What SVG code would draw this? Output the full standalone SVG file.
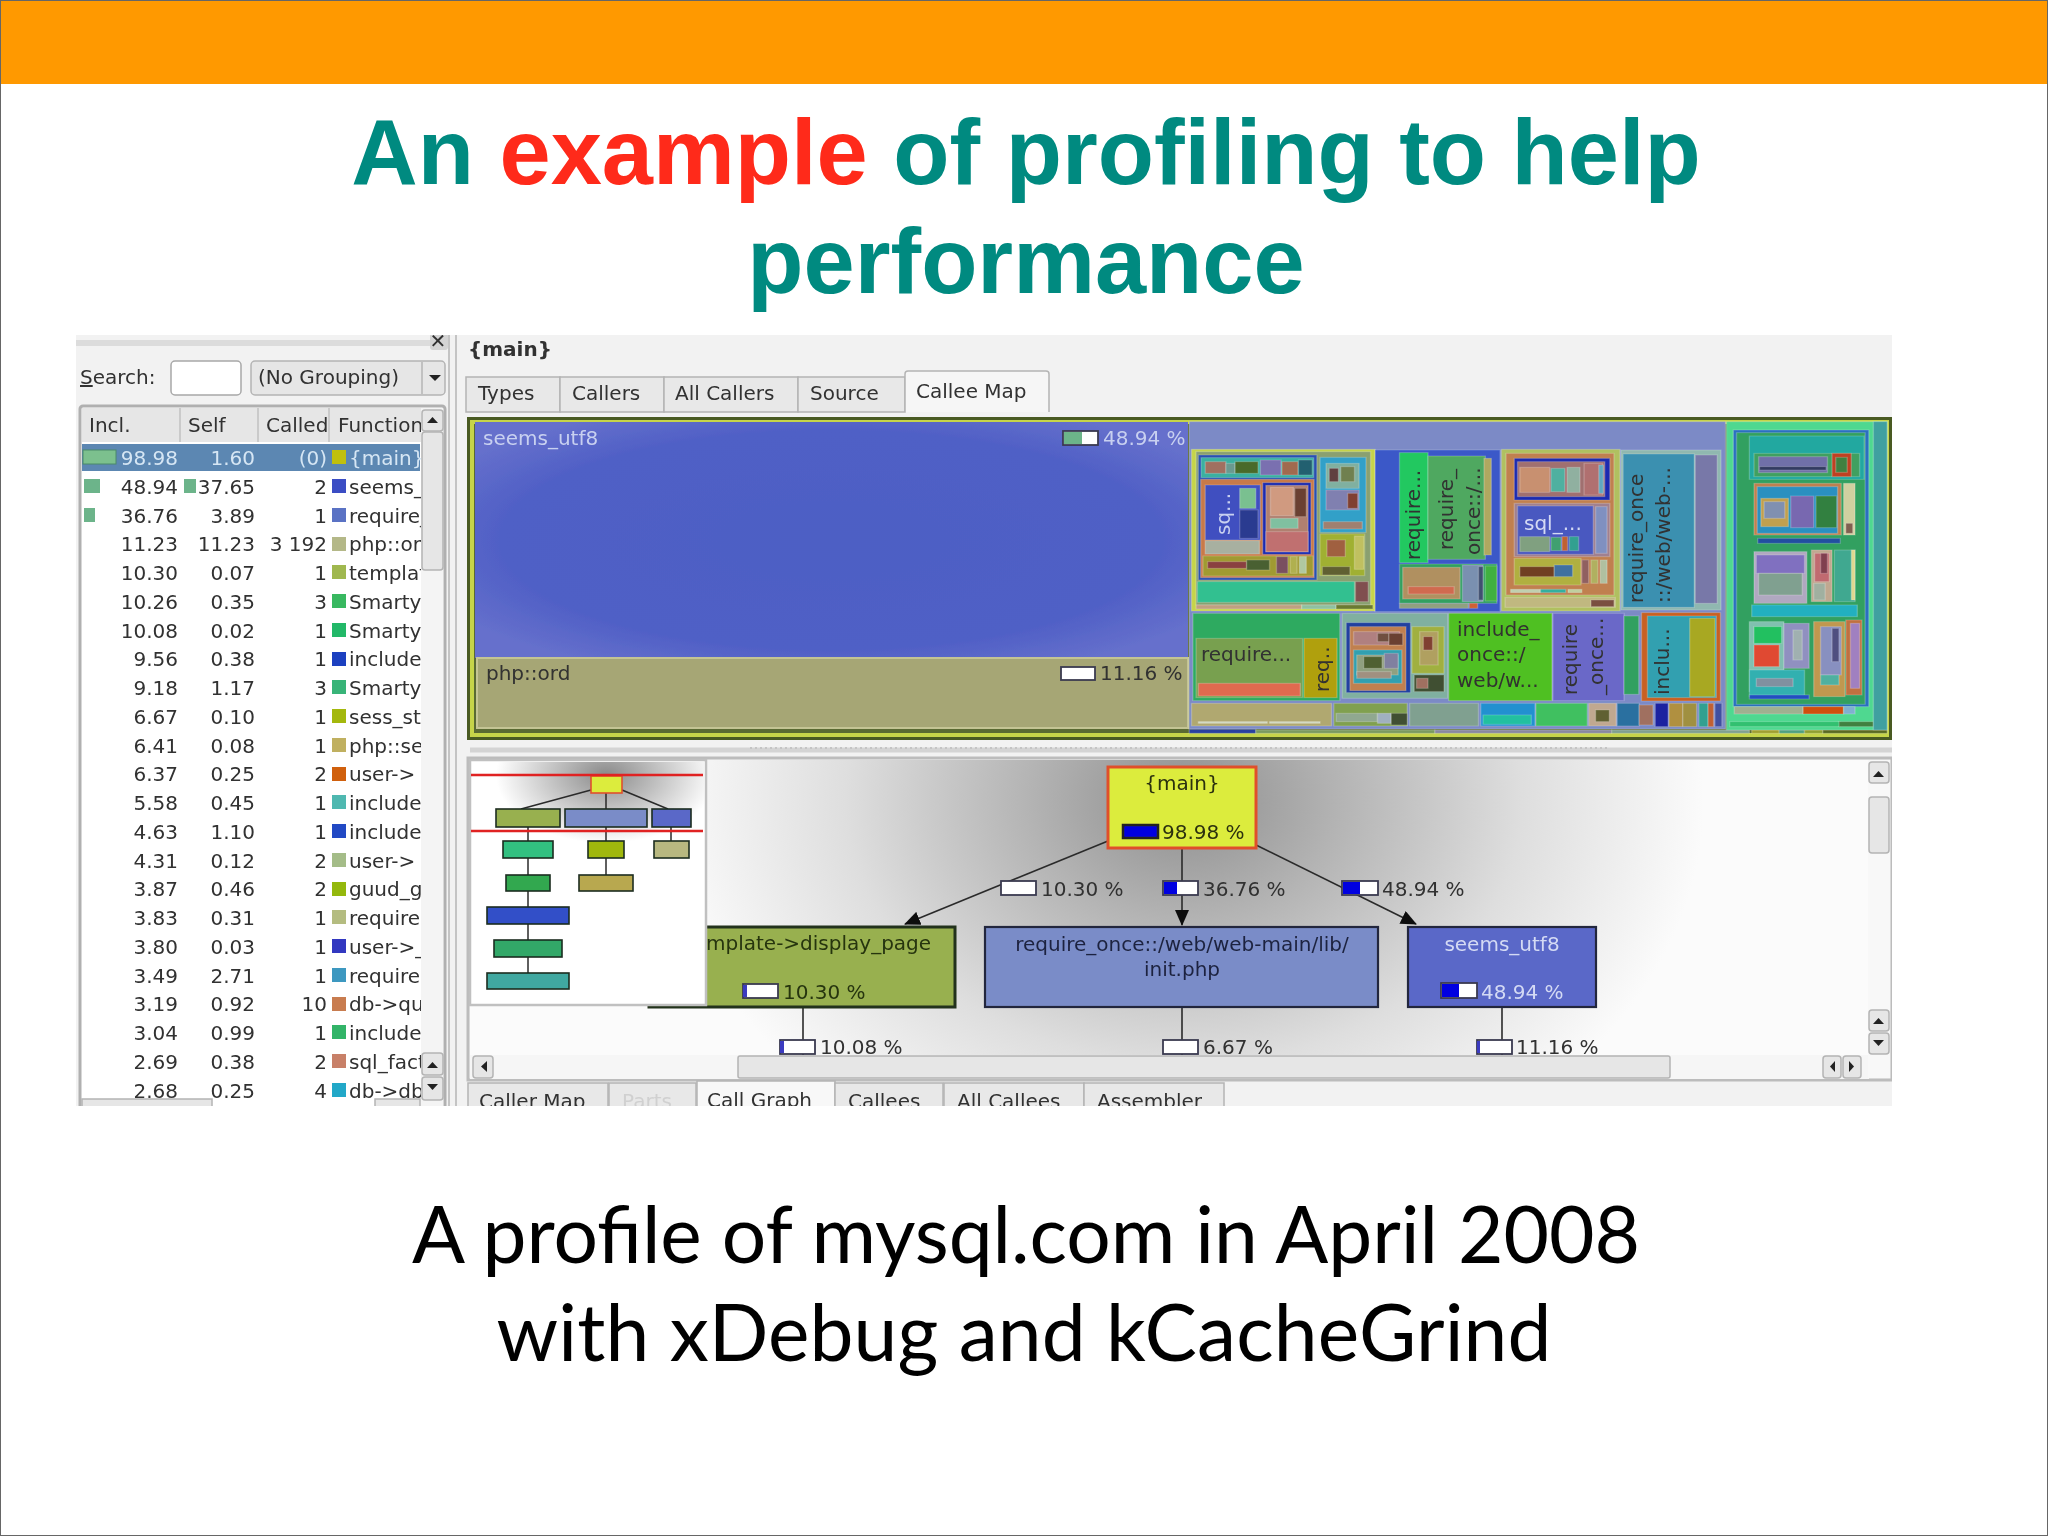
<svg xmlns="http://www.w3.org/2000/svg" width="2048" height="1536" viewBox="0 0 2048 1536">
<style>
.u{font-family:"DejaVu Sans",sans-serif;font-size:20px;fill:#303030}
.e{text-anchor:end}.m{text-anchor:middle}
.t rect{stroke:#fff;stroke-opacity:.22;stroke-width:3}
.btn{fill:#e6e6e6;stroke:#b4b4b4;stroke-width:1.5}
.tab{fill:#e8e8e8;stroke:#b4b4b4;stroke-width:1.5}
.edge{stroke:#2a2a2a;stroke-width:1.6;fill:none}
.node{stroke:#20283c;stroke-width:2.2}
.mini rect{stroke:#1c2c20;stroke-width:1.6}
.bar{fill:#fff;stroke:#3a3a50;stroke-width:1.8}
.title{font-family:"Liberation Sans",Arial,sans-serif;font-weight:700;font-size:92px;fill:#008a80;text-anchor:middle}
.cap{font-family:Lato,"Noto Sans",sans-serif;font-size:78.500px;fill:#000;text-anchor:middle}
</style>
<defs>
<clipPath id="shot"><rect x="76" y="335" width="1816" height="771"/></clipPath>
<clipPath id="fn"><rect x="300" y="440" width="121" height="670"/></clipPath>
<clipPath id="gv"><rect x="468" y="760" width="1401" height="295"/></clipPath>
<filter id="soft" x="0" y="0" width="1" height="1"><feGaussianBlur stdDeviation="0.6"/></filter>
<radialGradient id="sh" gradientUnits="userSpaceOnUse" cx="1184" cy="800" r="520" gradientTransform="translate(1184 800) scale(1 .78) translate(-1184 -800)">
<stop offset="0" stop-color="#8e8e8e"/><stop offset=".3" stop-color="#b4b4b4"/><stop offset=".65" stop-color="#dedede"/><stop offset="1" stop-color="#fbfbfb"/></radialGradient>
<radialGradient id="sh2" gradientUnits="userSpaceOnUse" cx="606" cy="775" r="110" gradientTransform="translate(606 775) scale(1 .62) translate(-606 -775)">
<stop offset="0" stop-color="#8a8a8a"/><stop offset="1" stop-color="#fff"/></radialGradient>
<radialGradient id="su" cx=".5" cy=".5" r=".62"><stop offset="0" stop-color="#4d5ec4"/><stop offset=".75" stop-color="#5060c6"/><stop offset="1" stop-color="#6670cc"/></radialGradient>
<marker id="ah" viewBox="0 0 16 14" refX="15" refY="7" markerWidth="16" markerHeight="14" markerUnits="userSpaceOnUse" orient="auto"><path d="M0 0L16 7L0 14z" fill="#111"/></marker>
</defs>

<rect width="2048" height="1536" fill="#fff"/>
<rect x="0" y="0" width="2048" height="84" fill="#ff9900"/>
<rect x=".5" y=".5" width="2047" height="1535" fill="none" stroke="#666"/>
<text class="title" x="1026" y="184">An <tspan fill="#ff2a1a">example</tspan> of profiling to help</text>
<text class="title" x="1026" y="293">performance</text>

<g clip-path="url(#shot)">
<g filter="url(#soft)">
<rect x="76" y="335" width="1816" height="771" fill="#f2f2f2"/>

<g id="left-panel">
<rect x="76" y="340" width="356" height="6" fill="#dcdcdc"/>
<rect x="430" y="333" width="18" height="17" rx="3" fill="#d4d4d4"/>
<text class="u m" x="438" y="348" font-size="18" font-weight="700">✕</text>
<text class="u" x="80" y="384"><tspan text-decoration="underline">S</tspan>earch:</text>
<rect x="171" y="361" width="70" height="34" rx="4" fill="#fff" stroke="#a8a8a8" stroke-width="1.5"/>
<rect x="251" y="361" width="194" height="34" rx="4" class="btn"/>
<line x1="422" y1="362" x2="422" y2="394" stroke="#b4b4b4" stroke-width="1.5"/>
<path d="M429 375h12l-6 6z" fill="#222"/>
<text class="u" x="258" y="384">(No Grouping)</text>
<rect x="80" y="406" width="365" height="710" rx="3" fill="#fff" stroke="#b0b0b0" stroke-width="3"/>
<rect x="82" y="408" width="340" height="34" fill="#e6e6e6"/>
<g stroke="#c0c0c0" stroke-width="1.5"><line x1="180" y1="408" x2="180" y2="442"/><line x1="258" y1="408" x2="258" y2="442"/><line x1="329" y1="408" x2="329" y2="442"/></g>
<text class="u" x="89" y="432">Incl.</text><text class="u" x="188" y="432">Self</text><text class="u" x="266" y="432">Called</text><text class="u" x="338" y="432">Function</text>
<rect x="82" y="444" width="338" height="27" fill="#5b87b2"/>
<rect x="83" y="450" width="33" height="14" fill="#7cc08e" stroke="#4c8a68"/>
<rect x="84" y="479" width="16" height="14" fill="#6cb48a"/><rect x="184" y="479" width="12" height="14" fill="#6cb48a"/>
<rect x="84" y="508" width="11" height="14" fill="#6cb48a"/>
<g transform="translate(1 -1)">
<g class="u e" id="incl">
<text x="177" y="466" style="fill:#d6e6f4">98.98</text><text x="177" y="495">48.94</text><text x="177" y="524">36.76</text><text x="177" y="552">11.23</text><text x="177" y="581">10.30</text><text x="177" y="610">10.26</text><text x="177" y="639">10.08</text><text x="177" y="667">9.56</text><text x="177" y="696">9.18</text><text x="177" y="725">6.67</text><text x="177" y="754">6.41</text><text x="177" y="782">6.37</text><text x="177" y="811">5.58</text><text x="177" y="840">4.63</text><text x="177" y="869">4.31</text><text x="177" y="897">3.87</text><text x="177" y="926">3.83</text><text x="177" y="955">3.80</text><text x="177" y="984">3.49</text><text x="177" y="1012">3.19</text><text x="177" y="1041">3.04</text><text x="177" y="1070">2.69</text><text x="177" y="1099">2.68</text>
</g>
<g class="u e" id="self">
<text x="254" y="466" style="fill:#d6e6f4">1.60</text><text x="254" y="495">37.65</text><text x="254" y="524">3.89</text><text x="254" y="552">11.23</text><text x="254" y="581">0.07</text><text x="254" y="610">0.35</text><text x="254" y="639">0.02</text><text x="254" y="667">0.38</text><text x="254" y="696">1.17</text><text x="254" y="725">0.10</text><text x="254" y="754">0.08</text><text x="254" y="782">0.25</text><text x="254" y="811">0.45</text><text x="254" y="840">1.10</text><text x="254" y="869">0.12</text><text x="254" y="897">0.46</text><text x="254" y="926">0.31</text><text x="254" y="955">0.03</text><text x="254" y="984">2.71</text><text x="254" y="1012">0.92</text><text x="254" y="1041">0.99</text><text x="254" y="1070">0.38</text><text x="254" y="1099">0.25</text>
</g>
</g>
<g transform="translate(0 -1)">
<g class="u e" id="called">
<text x="327" y="466" style="fill:#d6e6f4">(0)</text><text x="327" y="495">2</text><text x="327" y="524">1</text><text x="327" y="552">3 192</text><text x="327" y="581">1</text><text x="327" y="610">3</text><text x="327" y="639">1</text><text x="327" y="667">1</text><text x="327" y="696">3</text><text x="327" y="725">1</text><text x="327" y="754">1</text><text x="327" y="782">2</text><text x="327" y="811">1</text><text x="327" y="840">1</text><text x="327" y="869">2</text><text x="327" y="897">2</text><text x="327" y="926">1</text><text x="327" y="955">1</text><text x="327" y="984">1</text><text x="327" y="1012">10</text><text x="327" y="1041">1</text><text x="327" y="1070">2</text><text x="327" y="1099">4</text>
</g>
<g id="swatches">
<rect x="332" y="451" width="14" height="14" fill="#c0c010"/><rect x="332" y="480" width="14" height="14" fill="#3a4ec4"/><rect x="332" y="509" width="14" height="14" fill="#5a72c4"/><rect x="332" y="538" width="14" height="14" fill="#b4b888"/><rect x="332" y="566" width="14" height="14" fill="#a0b850"/><rect x="332" y="595" width="14" height="14" fill="#38b860"/><rect x="332" y="624" width="14" height="14" fill="#20b868"/><rect x="332" y="653" width="14" height="14" fill="#1c40c0"/><rect x="332" y="681" width="14" height="14" fill="#38b478"/><rect x="332" y="710" width="14" height="14" fill="#a4b810"/><rect x="332" y="739" width="14" height="14" fill="#c0b060"/><rect x="332" y="768" width="14" height="14" fill="#d06010"/><rect x="332" y="796" width="14" height="14" fill="#50b8b0"/><rect x="332" y="825" width="14" height="14" fill="#2448c4"/><rect x="332" y="854" width="14" height="14" fill="#a4bc88"/><rect x="332" y="883" width="14" height="14" fill="#94b810"/><rect x="332" y="911" width="14" height="14" fill="#b4bc80"/><rect x="332" y="940" width="14" height="14" fill="#3038c0"/><rect x="332" y="969" width="14" height="14" fill="#3c98c0"/><rect x="332" y="998" width="14" height="14" fill="#c87c50"/><rect x="332" y="1026" width="14" height="14" fill="#30b468"/><rect x="332" y="1055" width="14" height="14" fill="#c88068"/><rect x="332" y="1084" width="14" height="14" fill="#20a8c8"/>
</g>
<g class="u" clip-path="url(#fn)" id="functions">
<text x="349" y="466" style="fill:#d6e6f4">{main}</text><text x="349" y="495">seems_utf8</text><text x="349" y="524">require_once</text><text x="349" y="552">php::ord</text><text x="349" y="581">template</text><text x="349" y="610">Smarty</text><text x="349" y="639">Smarty</text><text x="349" y="667">include</text><text x="349" y="696">Smarty</text><text x="349" y="725">sess_start</text><text x="349" y="754">php::session</text><text x="349" y="782">user-&gt;</text><text x="349" y="811">include</text><text x="349" y="840">include</text><text x="349" y="869">user-&gt;</text><text x="349" y="897">guud_get</text><text x="349" y="926">require</text><text x="349" y="955">user-&gt;_</text><text x="349" y="984">require</text><text x="349" y="1012">db-&gt;query</text><text x="349" y="1041">include</text><text x="349" y="1070">sql_factory</text><text x="349" y="1099">db-&gt;db</text>
</g>
</g>
<rect x="421" y="408" width="22" height="700" fill="#f4f4f4"/>
<rect x="422" y="410" width="21" height="21" rx="3" class="btn"/><path d="M427 423h11l-5.500-6z" fill="#222"/>
<rect x="422" y="432" width="21" height="138" rx="3" class="btn"/>
<rect x="422" y="1053" width="21" height="22" rx="3" class="btn"/><path d="M427 1068h11l-5.500-6z" fill="#222"/>
<rect x="422" y="1077" width="21" height="23" rx="3" class="btn"/><path d="M427 1084h11l-5.500 6z" fill="#222"/>
<rect x="82" y="1099" width="130" height="8" class="btn"/><rect x="375" y="1099" width="45" height="8" class="btn"/>
<line x1="449" y1="335" x2="449" y2="1106" stroke="#c4c4c4" stroke-width="2"/><line x1="456" y1="335" x2="456" y2="1106" stroke="#c4c4c4" stroke-width="2"/>
</g>

<g id="right-header">
<text class="u" x="468" y="356" style="font-weight:700">{main}</text>
<rect x="466" y="377" width="94" height="35" class="tab"/><rect x="560" y="377" width="104" height="35" class="tab"/><rect x="664" y="377" width="134" height="35" class="tab"/><rect x="798" y="377" width="107" height="35" class="tab"/>
<path d="M905 412V374q0-3 3-3H1046q3 0 3 3V412" fill="#f6f6f6" stroke="#b4b4b4" stroke-width="1.5"/>
<text class="u" x="478" y="400">Types</text><text class="u" x="572" y="400">Callers</text><text class="u" x="675" y="400">All Callers</text><text class="u" x="810" y="400">Source</text><text class="u" x="916" y="398">Callee Map</text>
</g>

<g id="treemap">
<rect x="467" y="417" width="1425" height="323" fill="#4a5a20"/>
<rect x="470" y="420" width="1419" height="317" fill="#c6d44a"/>
<rect x="474" y="424" width="1413" height="309" fill="#5a6a30"/>
<rect x="475" y="422" width="713" height="236" fill="url(#su)"/>
<rect x="477" y="658" width="711" height="70" fill="#a6a674" stroke="#c4c494" stroke-width="2"/>
<g class="t" transform="translate(1180 410) scale(.4592 .3333)">
<rect x="20" y="35" width="1168" height="922" fill="#7b8ac6"/>
<rect x="25" y="118" width="400" height="485" fill="#c5d44a"/><rect x="35" y="125" width="380" height="460" fill="#8aa070"/>
<rect x="40" y="135" width="258" height="375" fill="#2a50b0"/><rect x="46" y="143" width="245" height="60" fill="#3ab0a0"/>
<rect x="55" y="155" width="45" height="35" fill="#a07060"/><rect x="100" y="160" width="20" height="30" fill="#6a9a90"/><rect x="120" y="155" width="50" height="35" fill="#4a6a2a"/><rect x="175" y="150" width="45" height="45" fill="#7a70b0"/><rect x="222" y="155" width="35" height="40" fill="#a06a50"/><rect x="258" y="150" width="30" height="45" fill="#206070"/>
<rect x="45" y="208" width="247" height="295" fill="#c87a4a"/><rect x="55" y="225" width="120" height="165" fill="#4050c0"/><rect x="130" y="235" width="35" height="60" fill="#7ac090"/><rect x="130" y="300" width="40" height="85" fill="#2a3a90"/><rect x="55" y="392" width="118" height="40" fill="#a8b0a0"/>
<rect x="180" y="218" width="105" height="215" fill="#1a2ab0"/><rect x="187" y="226" width="92" height="200" fill="#b08070"/><rect x="197" y="232" width="50" height="85" fill="#d09a80"/><rect x="250" y="235" width="25" height="85" fill="#6a4030"/><rect x="197" y="325" width="60" height="30" fill="#80c0a0"/><rect x="187" y="365" width="92" height="60" fill="#c07070"/>
<rect x="50" y="438" width="240" height="60" fill="#a09a30"/><rect x="60" y="455" width="85" height="20" fill="#8a4040"/><rect x="145" y="450" width="50" height="30" fill="#4a6030"/><rect x="210" y="440" width="25" height="50" fill="#7a5060"/><rect x="240" y="440" width="15" height="50" fill="#b0b050"/><rect x="260" y="440" width="15" height="50" fill="#b0c8a0"/>
<rect x="305" y="142" width="100" height="225" fill="#30a0c8"/><rect x="318" y="160" width="72" height="75" fill="#80b0a0"/><rect x="325" y="175" width="20" height="40" fill="#604040"/><rect x="350" y="170" width="30" height="45" fill="#708050"/><rect x="318" y="240" width="72" height="60" fill="#8080b0"/><rect x="365" y="250" width="22" height="45" fill="#804030"/><rect x="312" y="335" width="85" height="22" fill="#a08070"/>
<rect x="305" y="372" width="97" height="125" fill="#a0b030"/><rect x="320" y="390" width="40" height="50" fill="#a06040"/><rect x="380" y="378" width="20" height="100" fill="#c0c060"/><rect x="310" y="470" width="60" height="25" fill="#606030"/>
<rect x="38" y="515" width="342" height="62" fill="#30c090"/><rect x="382" y="515" width="28" height="60" fill="#805050"/>
<rect x="35" y="585" width="230" height="12" fill="#c0a080"/><rect x="265" y="585" width="75" height="12" fill="#90c0a0"/><rect x="340" y="585" width="80" height="12" fill="#6a7a30"/>

<rect x="425" y="120" width="272" height="485" fill="#3a58c8"/>
<rect x="478" y="128" width="62" height="330" fill="#20c860"/><rect x="540" y="138" width="125" height="310" fill="#50a860"/><rect x="662" y="145" width="16" height="290" fill="#b0a860"/>
<rect x="478" y="462" width="212" height="118" fill="#30a060"/><rect x="485" y="472" width="125" height="95" fill="#b09060"/><rect x="497" y="530" width="100" height="22" fill="#d06a50"/><rect x="615" y="465" width="45" height="110" fill="#7a90b0"/><rect x="650" y="470" width="10" height="100" fill="#405070"/><rect x="665" y="468" width="25" height="105" fill="#40b040"/>
<rect x="478" y="580" width="150" height="15" fill="#90a080"/><rect x="630" y="580" width="18" height="15" fill="#d06030"/>

<rect x="700" y="118" width="258" height="485" fill="#b0c060"/><rect x="710" y="130" width="235" height="425" fill="#c08050"/>
<rect x="728" y="145" width="208" height="125" fill="#1a2ab0"/><rect x="735" y="155" width="190" height="105" fill="#a07070"/><rect x="740" y="172" width="65" height="75" fill="#c89070"/><rect x="808" y="175" width="30" height="70" fill="#50b0a0"/><rect x="843" y="172" width="28" height="75" fill="#90b0a0"/><rect x="880" y="160" width="40" height="95" fill="#b07070"/><rect x="912" y="165" width="10" height="85" fill="#60a8c0"/>
<rect x="728" y="280" width="208" height="160" fill="#a08090"/><rect x="735" y="288" width="165" height="145" fill="#4a58c0"/><rect x="905" y="290" width="25" height="140" fill="#8090c0"/><rect x="740" y="380" width="65" height="45" fill="#80a080"/><rect x="808" y="382" width="22" height="40" fill="#40a070"/><rect x="832" y="380" width="12" height="42" fill="#c06030"/><rect x="848" y="380" width="20" height="42" fill="#30a090"/>
<rect x="728" y="445" width="145" height="80" fill="#b0b040"/><rect x="740" y="470" width="75" height="30" fill="#704020"/><rect x="815" y="465" width="40" height="35" fill="#4070a0"/><rect x="875" y="450" width="15" height="70" fill="#906060"/><rect x="895" y="450" width="15" height="70" fill="#b0b060"/><rect x="915" y="450" width="15" height="70" fill="#b0c0a0"/>
<rect x="720" y="538" width="65" height="10" fill="#c0d0b0"/><rect x="785" y="538" width="55" height="10" fill="#30b0a0"/><rect x="845" y="538" width="30" height="10" fill="#c0d0a0"/>
<rect x="708" y="562" width="240" height="30" fill="#c0b880"/><rect x="895" y="570" width="50" height="20" fill="#7a5040"/>

<rect x="960" y="120" width="218" height="480" fill="#90b8b0"/><rect x="965" y="132" width="155" height="460" fill="#3a90b0"/><rect x="1122" y="135" width="48" height="445" fill="#7878a8"/>

<rect x="28" y="610" width="320" height="262" fill="#2eaa60"/><rect x="35" y="685" width="232" height="178" fill="#78a050"/><rect x="40" y="820" width="222" height="38" fill="#e06a50"/><rect x="270" y="685" width="72" height="178" fill="#b0a010"/>
<rect x="353" y="610" width="230" height="255" fill="#80b0a0"/><rect x="362" y="638" width="140" height="210" fill="#2040a0"/><rect x="370" y="650" width="122" height="192" fill="#c08050"/><rect x="378" y="665" width="100" height="40" fill="#b08080"/><rect x="430" y="670" width="25" height="25" fill="#705040"/><rect x="455" y="670" width="30" height="35" fill="#6a4030"/><rect x="378" y="720" width="105" height="100" fill="#30a0b0"/><rect x="385" y="735" width="90" height="60" fill="#90a080"/><rect x="400" y="740" width="40" height="35" fill="#506030"/><rect x="445" y="730" width="30" height="45" fill="#8080a0"/><rect x="385" y="785" width="75" height="20" fill="#a09080"/>
<rect x="505" y="650" width="70" height="140" fill="#a0b040"/><rect x="522" y="665" width="40" height="100" fill="#b0a060"/><rect x="530" y="680" width="20" height="40" fill="#804030"/><rect x="510" y="795" width="65" height="50" fill="#405030"/><rect x="515" y="805" width="25" height="30" fill="#a07060"/>
<rect x="585" y="610" width="225" height="262" fill="#50c020"/>
<rect x="812" y="610" width="155" height="262" fill="#6a68c8"/><rect x="967" y="618" width="32" height="235" fill="#30a060"/>
<rect x="1005" y="608" width="172" height="265" fill="#c86020"/><rect x="1018" y="618" width="150" height="245" fill="#30a0b0"/><rect x="1110" y="625" width="55" height="235" fill="#a8a820"/>

<rect x="25" y="880" width="305" height="68" fill="#b0a870"/><rect x="40" y="935" width="150" height="5" fill="#d0d8c0"/><rect x="195" y="935" width="110" height="5" fill="#d0d8c0"/>
<rect x="335" y="880" width="160" height="68" fill="#80a050"/><rect x="340" y="910" width="90" height="25" fill="#90a890"/><rect x="430" y="910" width="30" height="30" fill="#a0b0c0"/><rect x="460" y="910" width="35" height="35" fill="#405030"/>
<rect x="500" y="880" width="150" height="68" fill="#80a090"/>
<rect x="655" y="880" width="118" height="68" fill="#2090d0"/><rect x="660" y="915" width="105" height="28" fill="#20c0a0"/>
<rect x="775" y="880" width="112" height="68" fill="#40c060"/>
<rect x="890" y="880" width="60" height="68" fill="#c0a890"/><rect x="905" y="900" width="30" height="35" fill="#606030"/>
<rect x="952" y="880" width="48" height="68" fill="#2a70a0"/><rect x="1000" y="885" width="30" height="60" fill="#a07060"/>
<rect x="1035" y="880" width="28" height="70" fill="#1a20a0"/><rect x="1065" y="880" width="30" height="70" fill="#b09040"/><rect x="1095" y="880" width="30" height="70" fill="#a09040"/><rect x="1130" y="880" width="20" height="70" fill="#30a090"/><rect x="1150" y="880" width="12" height="70" fill="#c06030"/><rect x="1165" y="880" width="15" height="70" fill="#4050a0"/>

<rect x="20" y="958" width="145" height="12" fill="#2a40a0"/><rect x="165" y="960" width="390" height="10" fill="#7a9a60"/><rect x="555" y="960" width="385" height="10" fill="#8888a0"/><rect x="940" y="960" width="300" height="10" fill="#80a090"/><rect x="1245" y="960" width="60" height="10" fill="#a0a030"/><rect x="1305" y="960" width="55" height="10" fill="#50a080"/><rect x="1360" y="960" width="40" height="10" fill="#90a030"/><rect x="1400" y="960" width="140" height="10" fill="#5a6a20"/>

<rect x="1190" y="35" width="350" height="925" fill="#50d890"/><rect x="1205" y="60" width="295" height="830" fill="#2a70c0"/><rect x="1212" y="68" width="280" height="815" fill="#30a060"/>
<rect x="1240" y="78" width="250" height="130" fill="#20a8a0"/><rect x="1250" y="130" width="230" height="70" fill="#40a060"/><rect x="1260" y="140" width="150" height="48" fill="#7070a8"/><rect x="1262" y="170" width="145" height="10" fill="#303a60"/><rect x="1420" y="130" width="42" height="70" fill="#c04020"/><rect x="1428" y="142" width="25" height="45" fill="#408040"/>
<rect x="1250" y="220" width="190" height="155" fill="#c08050"/><rect x="1257" y="230" width="175" height="140" fill="#2a90c0"/><rect x="1265" y="265" width="60" height="85" fill="#c0a050"/><rect x="1272" y="275" width="45" height="50" fill="#8090b0"/><rect x="1330" y="258" width="50" height="95" fill="#7868b0"/><rect x="1385" y="258" width="45" height="95" fill="#308040"/>
<rect x="1445" y="220" width="25" height="155" fill="#d0d0a0"/><rect x="1450" y="340" width="15" height="30" fill="#806050"/><rect x="1258" y="385" width="180" height="15" fill="#2050a0"/>
<rect x="1250" y="425" width="115" height="155" fill="#b0a8c0"/><rect x="1255" y="435" width="105" height="55" fill="#8070c0"/><rect x="1260" y="490" width="95" height="65" fill="#80a090"/>
<rect x="1375" y="420" width="45" height="155" fill="#c0a890"/><rect x="1382" y="430" width="32" height="85" fill="#c06a70"/><rect x="1395" y="430" width="15" height="60" fill="#804050"/><rect x="1380" y="520" width="25" height="50" fill="#a0b0a0"/>
<rect x="1425" y="420" width="45" height="155" fill="#40a890"/><rect x="1462" y="420" width="8" height="150" fill="#e0d890"/>
<rect x="1245" y="585" width="230" height="35" fill="#20b0c0"/>
<rect x="1240" y="635" width="75" height="210" fill="#80c0b0"/><rect x="1250" y="650" width="60" height="50" fill="#20c060"/><rect x="1250" y="705" width="55" height="65" fill="#e04a30"/><rect x="1315" y="640" width="55" height="135" fill="#9090c0"/><rect x="1335" y="660" width="20" height="90" fill="#a0b0b0"/>
<rect x="1240" y="780" width="120" height="80" fill="#30b0b0"/><rect x="1255" y="805" width="80" height="25" fill="#8090a0"/>
<rect x="1380" y="635" width="68" height="225" fill="#c09850"/><rect x="1395" y="650" width="45" height="145" fill="#8890c0"/><rect x="1420" y="655" width="15" height="100" fill="#505080"/><rect x="1395" y="795" width="40" height="30" fill="#50b0a0"/>
<rect x="1450" y="630" width="35" height="225" fill="#c07040"/><rect x="1460" y="640" width="20" height="195" fill="#a080c0"/>
<rect x="1240" y="855" width="130" height="12" fill="#2050c0"/>
<rect x="1207" y="890" width="150" height="22" fill="#a0b090"/><rect x="1357" y="890" width="88" height="22" fill="#d05010"/><rect x="1445" y="890" width="25" height="22" fill="#80b0d0"/>
<rect x="1197" y="935" width="240" height="15" fill="#30c070"/><rect x="1435" y="935" width="75" height="15" fill="#408040"/>
<rect x="1510" y="35" width="30" height="925" fill="#40a0a0"/>
</g>
<text class="u" style="fill:#c8d0f0" x="483" y="445">seems_utf8</text>
<rect x="1063" y="431" width="35" height="14" class="bar"/><rect x="1064" y="432" width="18" height="12" fill="#6cb48a"/>
<text class="u" style="fill:#c8d0f0" x="1103" y="445">48.94 %</text>
<text class="u" x="486" y="680">php::ord</text>
<rect x="1061" y="667" width="34" height="13" class="bar"/>
<text class="u" x="1100" y="680">11.16 %</text>
<text class="u" style="fill:#c8d0f0" transform="translate(1230 535) rotate(-90)">sq...</text>
<text class="u" transform="translate(1420 560) rotate(-90)">require...</text>
<text class="u" transform="translate(1453 550) rotate(-90)">require_</text>
<text class="u" transform="translate(1480 555) rotate(-90)">once::/...</text>
<text class="u" transform="translate(1643 603) rotate(-90)">require_once</text>
<text class="u" transform="translate(1670 603) rotate(-90)">::/web/web-...</text>
<text class="u" style="fill:#d4daf4" x="1524" y="530">sql_...</text>
<text class="u" x="1201" y="661">require...</text>
<text class="u" transform="translate(1329 692) rotate(-90)">req..</text>
<text class="u" x="1457" y="636">include_</text>
<text class="u" x="1457" y="661">once::/</text>
<text class="u" x="1457" y="687">web/w...</text>
<text class="u" transform="translate(1577 695) rotate(-90)">require</text>
<text class="u" transform="translate(1603 695) rotate(-90)">_once...</text>
<text class="u" transform="translate(1669 695) rotate(-90)">inclu...</text>
<line x1="470" y1="750" x2="1892" y2="750" stroke="#d4d4d4" stroke-width="5"/>
<line x1="750" y1="748" x2="1610" y2="748" stroke="#c4c4c4" stroke-width="2" stroke-dasharray="2 3"/>
</g>

<g id="callgraph">
<rect x="468" y="758" width="1424" height="322" fill="#f4f4f4" stroke="#bcbcbc" stroke-width="3"/>
<rect x="470" y="760" width="1420" height="318" fill="#fdfdfd"/>
<g clip-path="url(#gv)">
<rect x="470" y="760" width="1420" height="295" fill="url(#sh)"/>
<g id="connectors">
<line class="edge" x1="1108" y1="841" x2="905" y2="924" marker-end="url(#ah)"/>
<line class="edge" x1="1182" y1="848" x2="1182" y2="925" marker-end="url(#ah)"/>
<line class="edge" x1="1256" y1="845" x2="1416" y2="924" marker-end="url(#ah)"/>
<line class="edge" x1="803" y1="1007" x2="803" y2="1060"/>
<line class="edge" x1="1182" y1="1007" x2="1182" y2="1060"/>
<line class="edge" x1="1502" y1="1007" x2="1502" y2="1060"/>
</g>
<g id="n-main"><rect x="1108" y="767" width="148" height="81" fill="#dcec3c" stroke="#e0502c" stroke-width="3"/>
<text class="u m" x="1182" y="790" style="fill:#2c3010">{main}</text>
<rect x="1123" y="825" width="35" height="13" fill="#0000e0" stroke="#222" stroke-width="2.500"/>
<text class="u" x="1162" y="839" style="fill:#2c3010">98.98 %</text></g>
<g id="n-template"><rect x="649" y="927" width="306" height="80" fill="#98b050" stroke="#22301a" stroke-width="3"/>
<text class="u" x="706" y="950" style="fill:#26340f">mplate-&gt;display_page</text>
<rect x="743" y="984" width="35" height="14" class="bar"/><rect x="743" y="985" width="4" height="12" fill="#3a3ac0"/>
<text class="u" x="783" y="999" style="fill:#26340f">10.30 %</text></g>
<g id="n-require"><rect x="985" y="927" width="393" height="80" fill="#7a8cc8" class="node"/>
<text class="u m" x="1182" y="951" style="fill:#1e2440">require_once::/web/web-main/lib/</text>
<text class="u m" x="1182" y="976" style="fill:#1e2440">init.php</text></g>
<g id="n-seems"><rect x="1408" y="927" width="188" height="80" fill="#5a68c8" class="node"/>
<text class="u m" x="1502" y="951" style="fill:#d4daf4">seems_utf8</text>
<rect x="1441" y="983" width="36" height="15" class="bar"/><rect x="1442" y="984" width="17" height="13" fill="#0000e0"/>
<text class="u" x="1481" y="999" style="fill:#d4daf4">48.94 %</text></g>
<g id="edge-labels">
<rect x="1001" y="881" width="35" height="14" class="bar"/><text class="u" x="1041" y="896">10.30 %</text>
<rect x="1163" y="881" width="35" height="14" class="bar"/><rect x="1164" y="882" width="13" height="12" fill="#0000e0"/><text class="u" x="1203" y="896">36.76 %</text>
<rect x="1342" y="881" width="36" height="14" class="bar"/><rect x="1343" y="882" width="17" height="12" fill="#0000e0"/><text class="u" x="1382" y="896">48.94 %</text>
<rect x="780" y="1040" width="35" height="14" class="bar"/><rect x="780" y="1041" width="4" height="12" fill="#3a3ac0"/><text class="u" x="820" y="1054">10.08 %</text>
<rect x="1163" y="1040" width="35" height="14" class="bar"/><text class="u" x="1203" y="1054">6.67 %</text>
<rect x="1477" y="1040" width="35" height="14" class="bar"/><rect x="1477" y="1041" width="3" height="12" fill="#3a3ac0"/><text class="u" x="1516" y="1054">11.16 %</text>
</g>
</g>

<g id="birdseye">
<rect x="470" y="760" width="236" height="245" fill="#fff" stroke="#c0c0c0" stroke-width="2.500"/>
<rect x="472" y="762" width="232" height="130" fill="url(#sh2)"/>
<g class="edge" style="stroke-width:1.500"><path d="M591 790L521 809M606 793V809M622 790L668 809M528 827V841M606 827V841M671 827V841M528 858V875M606 858V875M528 891V907M528 924V940M528 957V973"/></g>
<g class="mini">
<rect x="591" y="776" width="31" height="17" fill="#dcec3c" style="stroke:#e0502c"/>
<rect x="496" y="809" width="64" height="18" fill="#98b050"/>
<rect x="565" y="809" width="82" height="18" fill="#7a8cc8"/>
<rect x="652" y="809" width="39" height="18" fill="#5a68c8"/>
<rect x="503" y="841" width="50" height="17" fill="#30c080"/>
<rect x="588" y="841" width="36" height="17" fill="#a0b810"/>
<rect x="654" y="841" width="35" height="17" fill="#b8b880"/>
<rect x="506" y="875" width="44" height="16" fill="#30a850"/>
<rect x="579" y="875" width="54" height="16" fill="#b8a850"/>
<rect x="487" y="907" width="82" height="17" fill="#3050c8"/>
<rect x="494" y="940" width="68" height="17" fill="#30a868"/>
<rect x="487" y="973" width="82" height="16" fill="#40a8a0"/>
</g>
<line x1="471" y1="775" x2="703" y2="775" stroke="#e02020" stroke-width="2.500"/>
<line x1="471" y1="831" x2="703" y2="831" stroke="#e02020" stroke-width="2.500"/>
</g>

<g id="graph-scrollbars">
<rect x="470" y="1055" width="1399" height="24" fill="#f6f6f6"/>
<rect x="473" y="1056" width="20" height="22" rx="3" class="btn"/><path d="M487 1061v11l-6-5.500z" fill="#222"/>
<rect x="738" y="1056" width="932" height="22" rx="2" class="btn"/>
<rect x="1823" y="1056" width="18" height="22" rx="3" class="btn"/><path d="M1835 1061v11l-5-5.500z" fill="#222"/>
<rect x="1843" y="1056" width="18" height="22" rx="3" class="btn"/><path d="M1849 1061v11l5-5.500z" fill="#222"/>
<rect x="1868" y="760" width="22" height="318" fill="#f8f8f8"/>
<rect x="1869" y="762" width="20" height="21" rx="3" class="btn"/><path d="M1873 777h11l-5.500-6z" fill="#222"/>
<rect x="1869" y="797" width="20" height="56" rx="3" class="btn"/>
<rect x="1869" y="1010" width="20" height="21" rx="3" class="btn"/><path d="M1873 1024h11l-5.500-6z" fill="#222"/>
<rect x="1869" y="1033" width="20" height="21" rx="3" class="btn"/><path d="M1873 1040h11l-5.500 6z" fill="#222"/>
</g>
</g>

<g id="bottom-tabs">
<rect x="468" y="1083" width="140" height="30" class="tab"/><rect x="609" y="1083" width="87" height="30" class="tab"/>
<rect x="697" y="1081" width="138" height="32" fill="#f8f8f8" stroke="#b4b4b4" stroke-width="1.500"/>
<rect x="835" y="1083" width="108" height="30" class="tab"/><rect x="944" y="1083" width="140" height="30" class="tab"/><rect x="1084" y="1083" width="140" height="30" class="tab"/>
<text class="u" x="479" y="1108">Caller Map</text><text class="u" x="622" y="1108" style="fill:#d0d0d0">Parts</text><text class="u" x="707" y="1107">Call Graph</text><text class="u" x="848" y="1108">Callees</text><text class="u" x="957" y="1108">All Callees</text><text class="u" x="1097" y="1108">Assembler</text>
</g>
</g>
</g>

<text class="cap" x="1026" y="1263" textLength="1228">A profile of mysql.com in April 2008</text>
<text class="cap" x="1024" y="1361" textLength="1055">with xDebug and kCacheGrind</text>
</svg>
